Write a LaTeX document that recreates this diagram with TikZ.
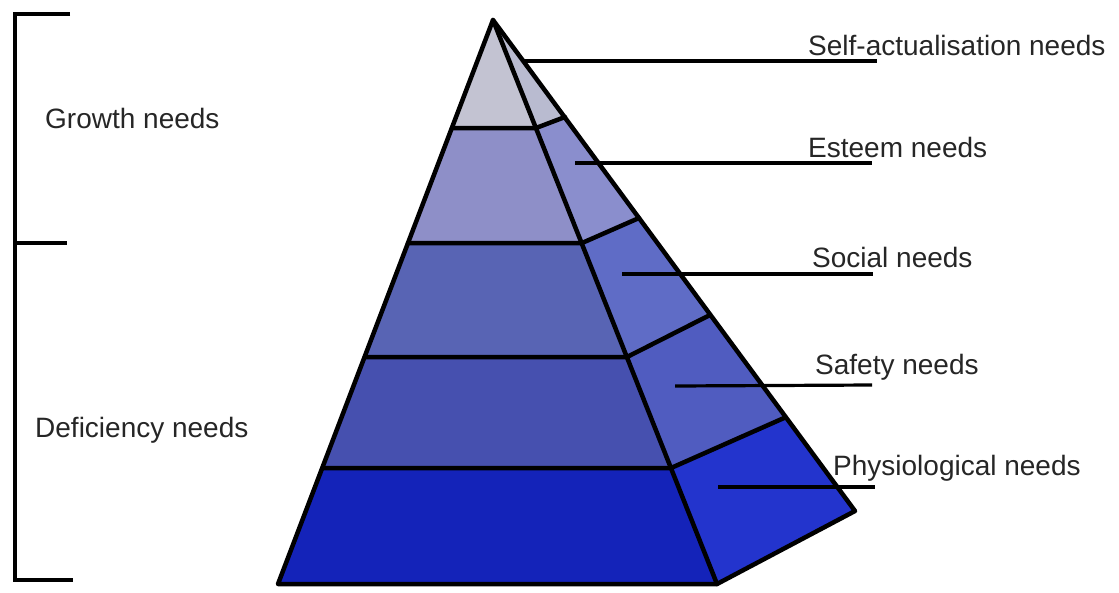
\documentclass[tikz,border=0pt]{standalone}
\usepackage{fontspec}
\setmainfont{Liberation Sans}
\begin{document}
\begin{tikzpicture}[x=1pt,y=-1pt,
  edge/.style={draw=black,line width=4.5pt,line join=round,line cap=round},
  leader/.style={draw=black,line width=3.2pt},
  brk/.style={draw=black,line width=4pt},
  lbl/.style={anchor=west,inner sep=0pt,font=\fontsize{28}{31}\selectfont,text=black!85}]
\useasboundingbox (0,0) rectangle (1119,592);
% key points
\coordinate (A) at (493,20);
\coordinate (L1) at (452,128); \coordinate (L2) at (408,243); \coordinate (L3) at (365,357);
\coordinate (L4) at (323,468); \coordinate (L5) at (278,584);
\coordinate (F1) at (536,128); \coordinate (F2) at (582,243); \coordinate (F3) at (627,357);
\coordinate (F4) at (671,468); \coordinate (F5) at (717,584);
\coordinate (O1) at (565,117); \coordinate (O2) at (639,218); \coordinate (O3) at (710,315);
\coordinate (O4) at (784,418); \coordinate (O5) at (855,511);
% front faces
\fill[fill={rgb,255:red,195;green,195;blue,210}] (A) -- (L1) -- (F1) -- cycle;
\fill[fill={rgb,255:red,142;green,143;blue,200}] (L1) -- (L2) -- (F2) -- (F1) -- cycle;
\fill[fill={rgb,255:red,88;green,100;blue,180}] (L2) -- (L3) -- (F3) -- (F2) -- cycle;
\fill[fill={rgb,255:red,70;green,80;blue,175}] (L3) -- (L4) -- (F4) -- (F3) -- cycle;
\fill[fill={rgb,255:red,20;green,35;blue,185}] (L4) -- (L5) -- (F5) -- (F4) -- cycle;
% right faces
\fill[fill={rgb,255:red,185;green,187;blue,208}] (A) -- (F1) -- (O1) -- cycle;
\fill[fill={rgb,255:red,138;green,142;blue,205}] (F1) -- (F2) -- (O2) -- (O1) -- cycle;
\fill[fill={rgb,255:red,95;green,108;blue,198}] (F2) -- (F3) -- (O3) -- (O2) -- cycle;
\fill[fill={rgb,255:red,80;green,92;blue,192}] (F3) -- (F4) -- (O4) -- (O3) -- cycle;
\fill[fill={rgb,255:red,35;green,52;blue,205}] (F4) -- (F5) -- (O5) -- (O4) -- cycle;
% outlines
\draw[edge] (A) -- (L5) -- (F5) -- (O5) -- cycle;
\draw[edge] (A) -- (F5);
\draw[edge] (L1) -- (F1) -- (O1);
\draw[edge] (L2) -- (F2) -- (O2);
\draw[edge] (L3) -- (F3) -- (O3);
\draw[edge] (L4) -- (F4) -- (O4);
% labels
\node[lbl] (t1) at (808,45) {Self-actualisation needs};
\node[lbl] (t2) at (808,147) {Esteem needs};
\node[lbl] (t3) at (812,257) {Social needs};
\node[lbl] (t4) at (815,367) {Safety needs};
\node[lbl] (t5) at (833,468) {Physiological needs};
% leader lines
\coordinate (s1) at (523,61);  \coordinate (e1) at (877,61);
\coordinate (s2) at (575,163); \coordinate (e2) at (872,163);
\coordinate (s3) at (622,274); \coordinate (e3) at (873,274);
\coordinate (s4) at (675,386); \coordinate (e4) at (872,385);
\coordinate (s5) at (718,487); \coordinate (e5) at (875,487);
\draw[leader] (s1) -- (e1);
\draw[leader] (s2) -- (e2);
\draw[leader] (s3) -- (e3);
\draw[leader] (s4) -- (e4);
\draw[leader] (s5) -- (e5);
% bracket
\coordinate (b0) at (15,14); \coordinate (b0r) at (70,14);
\coordinate (bm) at (15,243); \coordinate (bmr) at (67,243);
\coordinate (b1) at (15,580); \coordinate (b1r) at (73,580);
\draw[brk] (b0r) -- (b0) -- (b1) -- (b1r);
\draw[brk] (bm) -- (bmr);
\node[lbl] (g) at (45,118) {Growth needs};
\node[lbl] (d) at (35,430) {Deficiency needs};
\end{tikzpicture}
\end{document}
